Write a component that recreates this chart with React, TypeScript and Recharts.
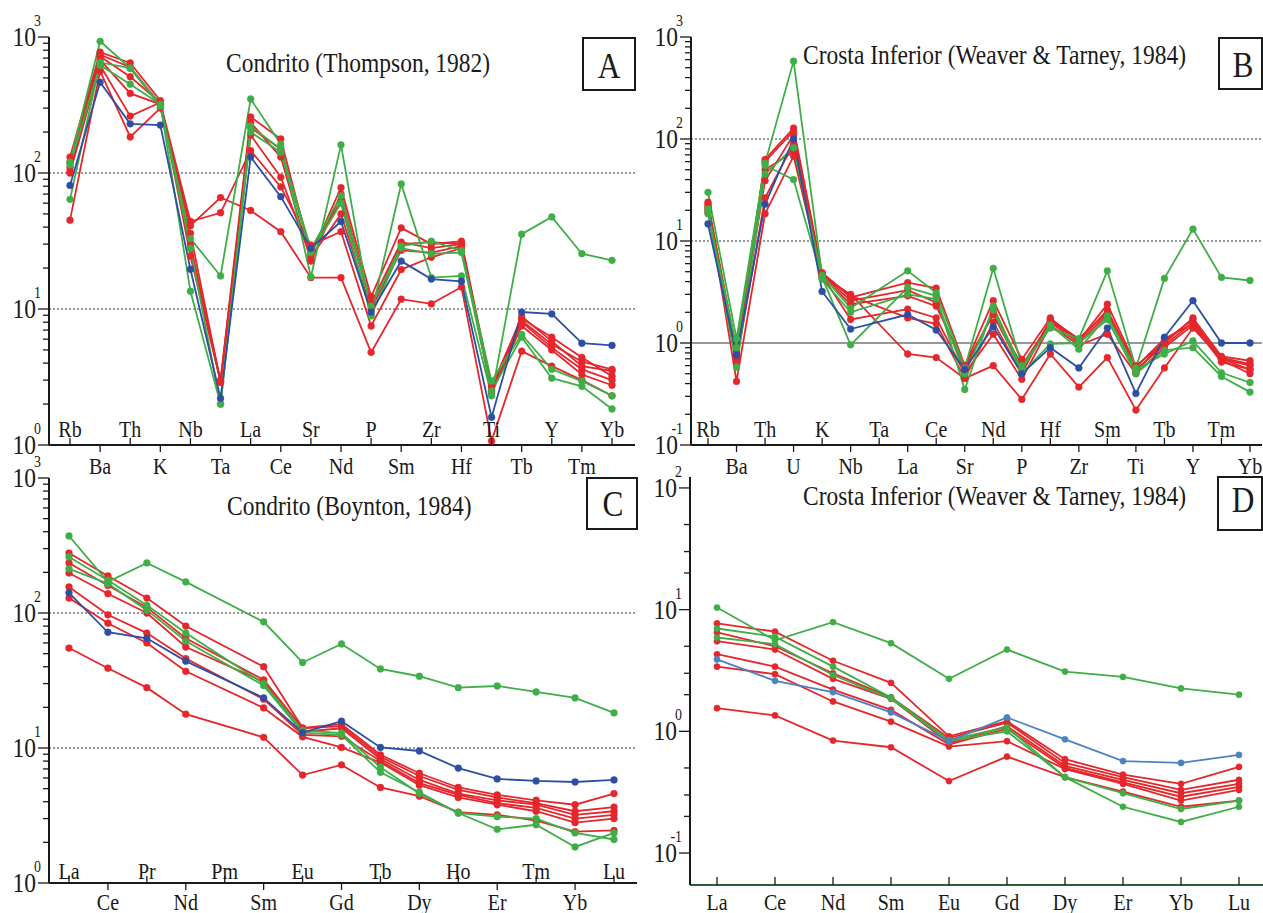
import * as React from 'react';
import { LineChart, Line, XAxis, YAxis, ReferenceLine } from 'recharts';

const SERIF = "'Liberation Serif', 'Times New Roman', serif";
const INK = '#1a1a1a';
const RED = '#e4272c';
const GREEN = '#3fae47';
const BLUE = '#2c4ea3';
const BLUE_LIGHT = '#4b82c3';
const FRAME_D = '#2d5e33';
const SQUEEZE = 0.87;

// ---- A: Condrito (Thompson, 1982)
const elementsA = ['Rb', 'Ba', 'Th', 'K', 'Nb', 'Ta', 'La', 'Ce', 'Sr', 'Nd', 'P', 'Sm', 'Zr', 'Hf', 'Ti', 'Tb', 'Y', 'Tm', 'Yb'];
const aRed1 = [45, 560, 184, 300, 41, 66, 53, 37, 17, 17, 4.8, 11.8, 10.9, 14.5, 1.07, 4.9, 3.8, 3.0, 2.3];
const aRed2 = [100, 620, 262, 330, 44, 51, 146, 79, 29.5, 37, 7.5, 19.5, 24, 28, 2.7, 8.2, 5.5, 4.1, 3.6];
const aRed3 = [131, 775, 645, 340, 28, 3.0, 258, 178, 25, 78, 12.3, 39.5, 30, 31.5, 2.7, 8.5, 6.2, 4.4, 3.2];
const aRed4 = [103, 720, 510, 330, 24.5, 2.9, 235, 131, 22.5, 70, 11, 31, 28, 30, 2.6, 8.8, 5.8, 3.8, 3.5];
const aRed5 = [110, 680, 385, 320, 30, 2.9, 190, 93, 24, 50, 10, 27, 26, 29, 2.5, 8.0, 5.2, 3.6, 3.0];
const aRed6 = [120, 740, 600, 320, 36, 2.9, 215, 150, 27, 62, 10.8, 30, 31, 30, 2.4, 7.5, 5.0, 3.3, 2.75];
const aGreen1 = [120, 930, 590, 310, 33, 17.5, 350, 163, 17.2, 161, 9, 83, 17, 17.5, 2.3, 35.5, 47.5, 25.5, 22.8];
const aGreen2 = [64, 650, 590, 320, 13.5, 2.0, 220, 150, 27.6, 68, 10.5, 29, 31.5, 26.8, 2.95, 6.5, 3.6, 2.95, 2.3];
const aGreen3 = [115, 620, 450, 320, 28, 2.0, 200, 142, 26, 60, 8.9, 28, 25.5, 26, 2.5, 6.2, 3.1, 2.7, 1.84];
const aBlue = [81, 465, 230, 225, 19.6, 2.2, 131, 67, 28, 44, 9.5, 22.5, 16.6, 16, 1.6, 9.5, 9.2, 5.6, 5.4];

// ---- B: Crosta Inferior (Weaver & Tarney, 1984) - Ta sem dados
const elementsB = ['Rb', 'Ba', 'Th', 'U', 'K', 'Nb', 'Ta', 'La', 'Ce', 'Sr', 'Nd', 'P', 'Hf', 'Zr', 'Sm', 'Ti', 'Tb', 'Y', 'Tm', 'Yb'];
const bRed1 = [22, 0.42, 18.5, 68, 4.5, 3.0, null, 0.78, 0.72, 0.45, 0.6, 0.28, 0.78, 0.37, 0.72, 0.22, 0.57, 1.4, 0.7, 0.55];
const bRed2 = [24, 0.7, 63, 128, 4.9, 2.8, null, 3.9, 3.45, 0.6, 2.6, 0.69, 1.76, 1.05, 2.4, 0.6, 1.0, 1.76, 0.74, 0.67];
const bRed3 = [21, 0.8, 39, 110, 4.7, 2.6, null, 3.3, 2.5, 0.55, 2.0, 0.6, 1.6, 1.0, 1.9, 0.55, 0.95, 1.6, 0.7, 0.6];
const bRed4 = [19, 0.65, 26.5, 90, 4.6, 1.7, null, 2.15, 1.76, 0.5, 1.22, 0.44, 1.5, 0.95, 1.22, 0.5, 0.9, 1.5, 0.65, 0.55];
const bRed5 = [20, 0.75, 50, 75, 4.8, 2.9, null, 1.76, 1.54, 0.45, 1.6, 0.5, 1.7, 1.1, 2.0, 0.52, 1.05, 1.7, 0.68, 0.5];
const bRed6 = [23, 0.85, 60, 120, 4.5, 2.4, null, 2.9, 2.3, 0.6, 1.9, 0.55, 1.65, 1.05, 2.1, 0.58, 1.1, 1.55, 0.72, 0.62];
const bGreen1 = [30, 1.1, 58, 580, 4.6, 2.2, null, 5.1, 3.1, 0.57, 5.4, 0.6, 1.4, 1.1, 5.1, 0.57, 4.3, 13.1, 4.4, 4.1];
const bGreen2 = [20.6, 0.58, 45.5, 82, 4.4, 0.96, null, 3.5, 2.9, 0.35, 2.3, 0.55, 1.5, 0.87, 1.84, 0.55, 0.78, 1.05, 0.51, 0.41];
const bGreen3 = [18.5, 0.9, 55, 40, 4.2, 2.0, null, 3.0, 2.7, 0.5, 2.1, 0.5, 0.98, 1.0, 1.7, 0.5, 0.85, 0.9, 0.47, 0.33];
const bBlue = [14.7, 0.76, 23, 100, 3.2, 1.37, null, 1.9, 1.34, 0.55, 1.44, 0.5, 0.9, 0.57, 1.4, 0.32, 1.14, 2.6, 1.0, 1.0];

// ---- C: Condrito (Boynton, 1984) - Pm sem dados
const elementsC = ['La', 'Ce', 'Pr', 'Nd', 'Pm', 'Sm', 'Eu', 'Gd', 'Tb', 'Dy', 'Ho', 'Er', 'Tm', 'Yb', 'Lu'];
const cRed1 = [55, 39, 28, 17.8, null, 12, 6.3, 7.5, 5.1, 4.4, 3.35, 3.2, 2.9, 2.4, 2.45];
const cRed2 = [278, 188, 129, 80, null, 40, 14.1, 15, 8.9, 6.5, 5.1, 4.5, 4.1, 3.8, 4.6];
const cRed3 = [235, 160, 110, 65, null, 32, 14.0, 14.5, 8.6, 6.2, 4.9, 4.3, 3.9, 3.4, 3.65];
const cRed4 = [198, 139, 100, 56, null, 31, 13.2, 14, 8.3, 5.8, 4.6, 4.1, 3.8, 3.2, 3.4];
const cRed5 = [156, 97, 71, 46, null, 23, 12.5, 12.2, 8.0, 5.5, 4.5, 3.9, 3.6, 3.0, 3.2];
const cRed6 = [129, 84, 60, 37, null, 19.8, 12.1, 10.1, 7.8, 5.3, 4.3, 3.8, 3.4, 2.8, 3.0];
const cGreen1 = [372, 170, 235, 170, null, 86, 43, 59, 38.5, 34, 28, 28.8, 26, 23.5, 18.2];
const cGreen2 = [260, 175, 114, 71, null, 30, 13.5, 12.9, 7.2, 4.6, 3.3, 2.5, 2.7, 1.85, 2.35];
const cGreen3 = [212, 165, 105, 62, null, 29, 13.0, 12.5, 6.6, 4.7, 3.3, 3.1, 3.0, 2.35, 2.1];
const cBlue = [141, 72, 65, 44, null, 23.5, 13.0, 15.8, 10.1, 9.5, 7.1, 5.9, 5.7, 5.6, 5.8];

// ---- D: Crosta Inferior (Weaver & Tarney, 1984) - ETR
const elementsD = ['La', 'Ce', 'Nd', 'Sm', 'Eu', 'Gd', 'Dy', 'Er', 'Yb', 'Lu'];
const dRed1 = [1.55, 1.35, 0.84, 0.74, 0.39, 0.62, 0.42, 0.32, 0.24, 0.27];
const dRed2 = [7.7, 6.6, 3.8, 2.5, 0.91, 1.21, 0.59, 0.44, 0.37, 0.51];
const dRed3 = [6.5, 5.0, 3.0, 1.9, 0.88, 1.18, 0.55, 0.42, 0.33, 0.4];
const dRed4 = [5.5, 4.7, 2.7, 1.85, 0.8, 1.1, 0.52, 0.4, 0.31, 0.37];
const dRed5 = [4.3, 3.4, 2.2, 1.5, 0.78, 1.05, 0.5, 0.38, 0.29, 0.35];
const dRed6 = [3.4, 2.95, 1.76, 1.2, 0.75, 0.83, 0.49, 0.37, 0.27, 0.33];
const dGreen1 = [10.4, 5.6, 7.9, 5.3, 2.7, 4.7, 3.1, 2.8, 2.25, 2.0];
const dGreen2 = [7.0, 6.0, 3.4, 1.9, 0.85, 1.08, 0.42, 0.31, 0.23, 0.27];
const dGreen3 = [5.9, 5.2, 2.9, 1.85, 0.83, 1.0, 0.42, 0.24, 0.18, 0.24];
const dBlue = [3.9, 2.6, 2.1, 1.43, 0.83, 1.3, 0.86, 0.57, 0.55, 0.64];

type Serie = { key: string; color: string; values: (number | null)[] };

function makeSeries(reds: any[], greens: any[], blue: any[], blueColor: string): Serie[] {
  const out: Serie[] = [];
  reds.forEach((v, i) => out.push({ key: 'r' + i, color: RED, values: v }));
  greens.forEach((v, i) => out.push({ key: 'g' + i, color: GREEN, values: v }));
  out.push({ key: 'b', color: blueColor, values: blue });
  return out;
}

function buildRows(cats: string[], series: Serie[]) {
  return cats.map((el, i) => {
    const row: any = { el };
    series.forEach((s) => { row[s.key] = s.values[i]; });
    return row;
  });
}

// minor ticks of a log axis
function logTicks(lo: number, hi: number, mults: number[]) {
  const out: number[] = [];
  for (let e = Math.floor(Math.log10(lo)) - 1; e <= Math.ceil(Math.log10(hi)); e++) {
    for (const m of mults) {
      const v = Number((m * Math.pow(10, e)).toPrecision(6));
      if (v >= lo * 0.999 && v <= hi * 1.001) out.push(v);
    }
  }
  return out;
}

function SqText({ x, y, size, anchor = 'start', children }: any) {
  return (
    <text transform={`translate(${x},${y}) scale(${SQUEEZE},1)`} fontSize={size}
      textAnchor={anchor} fontFamily={SERIF} fill={INK}>{children}</text>
  );
}

function DecadeTick(props: any) {
  const { x, y, payload } = props;
  const e = Math.log10(payload.value);
  const exp = Math.round(e);
  const major = Math.abs(e - exp) < 1e-6;
  return (
    <g>
      <line x1={x} x2={x - (major ? 11 : 6)} y1={y} y2={y} stroke={INK} strokeWidth={1.3} />
      {major && <SqText x={x - 13} y={y + 9} size={27} anchor="end">10</SqText>}
      {major && <SqText x={x - 8} y={y - 11} size={16} anchor="end">{exp}</SqText>}
    </g>
  );
}

function ElementTick(props: any) {
  const { x, y, payload, index, stagger, upDy, downDy } = props;
  const up = stagger && index % 2 === 0;
  if (!stagger) {
    return (
      <g>
        <line x1={x} x2={x} y1={y} y2={y - 8} stroke={INK} strokeWidth={1.3} />
        <SqText x={x} y={y + downDy} size={23} anchor="middle">{payload.value}</SqText>
      </g>
    );
  }
  return (
    <g>
      <line x1={x} x2={x} y1={y} y2={up ? y - 7 : y + 7} stroke={INK} strokeWidth={1.3} />
      <SqText x={x} y={up ? y + upDy : y + downDy} size={23} anchor="middle">{payload.value}</SqText>
    </g>
  );
}

type PanelProps = {
  left: number; top: number; width: number; height: number;
  margin: any; yWidth: number; xHeight: number;
  cats: string[]; series: Serie[]; domain: [number, number]; ticks: number[];
  padL: number; padR: number; stagger: boolean; upDy: number; downDy: number;
  dotted: number[]; solid: number[]; frame: string; dotR: number;
};

function Panel(p: PanelProps) {
  const rows = buildRows(p.cats, p.series);
  return (
    <div style={{ position: 'absolute', left: p.left, top: p.top }}>
      <LineChart width={p.width} height={p.height} data={rows} margin={p.margin}>
        <XAxis xAxisId="bottom" dataKey="el" height={p.xHeight} interval={0}
          padding={{ left: p.padL, right: p.padR }} tickSize={0} tickMargin={0} tickLine={false}
          axisLine={{ stroke: p.frame, strokeWidth: 2 }}
          tick={(t: any) => <ElementTick {...t} stagger={p.stagger} upDy={p.upDy} downDy={p.downDy} />} />
        <XAxis xAxisId="top" dataKey="el" orientation="top" height={0} tick={false} tickLine={false}
          axisLine={{ stroke: p.frame, strokeWidth: 2 }} />
        <YAxis yAxisId="left" type="number" scale="log" domain={p.domain} allowDataOverflow
          ticks={p.ticks} interval={0} width={p.yWidth} tickSize={0} tickMargin={0} tickLine={false}
          axisLine={{ stroke: INK, strokeWidth: 2 }} tick={<DecadeTick />} />
        <YAxis yAxisId="right" orientation="right" type="number" domain={[0, 1]} width={0}
          tick={false} tickLine={false} axisLine={{ stroke: p.frame, strokeWidth: 2 }} />
        {p.dotted.map((v) => (
          <ReferenceLine key={'d' + v} xAxisId="bottom" yAxisId="left" y={v}
            stroke="#333" strokeDasharray="2 2" strokeWidth={1} />
        ))}
        {p.solid.map((v) => (
          <ReferenceLine key={'s' + v} xAxisId="bottom" yAxisId="left" y={v} stroke="#333" strokeWidth={1.2} />
        ))}
        {p.series.map((s) => (
          <Line key={s.key} xAxisId="bottom" yAxisId="left" dataKey={s.key} stroke={s.color}
            strokeWidth={1.8} connectNulls isAnimationActive={false} activeDot={false}
            dot={{ r: p.dotR, fill: s.color, stroke: s.color, strokeWidth: 0.5 }} />
        ))}
      </LineChart>
    </div>
  );
}

const seriesA = makeSeries([aRed1, aRed2, aRed3, aRed4, aRed5, aRed6], [aGreen1, aGreen2, aGreen3], aBlue, BLUE);
const seriesB = makeSeries([bRed1, bRed2, bRed3, bRed4, bRed5, bRed6], [bGreen1, bGreen2, bGreen3], bBlue, BLUE);
const seriesC = makeSeries([cRed1, cRed2, cRed3, cRed4, cRed5, cRed6], [cGreen1, cGreen2, cGreen3], cBlue, BLUE);
const seriesD = makeSeries([dRed1, dRed2, dRed3, dRed4, dRed5, dRed6], [dGreen1, dGreen2, dGreen3], dBlue, BLUE_LIGHT);

const allMinor = [1, 2, 3, 4, 5, 6, 7, 8, 9];
const domainD: [number, number] = [0.0546, 123];

function Caption({ x, y, text }: any) {
  return <SqText x={x} y={y} size={27}>{text}</SqText>;
}

function LetterBox({ x, y, w, h, letter, bx, by }: any) {
  return (
    <g>
      <rect x={x} y={y} width={w} height={h} fill="#fff" stroke={INK} strokeWidth={2} />
      <SqText x={bx} y={by} size={36} anchor="middle">{letter}</SqText>
    </g>
  );
}

export default function App() {
  return (
    <div style={{ position: 'absolute', left: 0, top: 0, width: 1263, height: 913, background: '#fff', overflow: 'hidden' }}>
      <Panel left={0} top={0} width={640} height={480} margin={{ top: 37, right: 5, left: 0, bottom: 0 }}
        yWidth={49} xHeight={35} cats={elementsA} series={seriesA} domain={[1, 1000]}
        ticks={logTicks(1, 1000, allMinor)} padL={21} padR={23} stagger upDy={-8} downDy={29}
        dotted={[10, 100]} solid={[]} frame={INK} dotR={3.4} />
      <Panel left={640} top={0} width={623} height={480} margin={{ top: 37, right: 1, left: 0, bottom: 0 }}
        yWidth={51} xHeight={35} cats={elementsB} series={seriesB} domain={[0.1, 1000]}
        ticks={logTicks(0.1, 1000, allMinor)} padL={17} padR={12} stagger upDy={-8} downDy={29}
        dotted={[10, 100]} solid={[1]} frame={INK} dotR={3.4} />
      <Panel left={0} top={455} width={640} height={458} margin={{ top: 23, right: 3, left: 0, bottom: 0 }}
        yWidth={49} xHeight={30} cats={elementsC} series={seriesC} domain={[1, 1000]}
        ticks={logTicks(1, 1000, allMinor)} padL={20} padR={23} stagger upDy={-4} downDy={27}
        dotted={[10, 100]} solid={[]} frame={INK} dotR={3.4} />
      <Panel left={640} top={455} width={623} height={458} margin={{ top: 22, right: 0, left: 0, bottom: 0 }}
        yWidth={50} xHeight={28} cats={elementsD} series={seriesD} domain={domainD}
        ticks={logTicks(domainD[0], domainD[1], [1, 2, 3, 5])} padL={27} padR={24} stagger={false}
        upDy={0} downDy={25} dotted={[]} solid={[]} frame={FRAME_D} dotR={3.1} />
      <svg width={1263} height={913} style={{ position: 'absolute', left: 0, top: 0, pointerEvents: 'none' }}>
        <Caption x={226} y={72} text="Condrito (Thompson, 1982)" />
        <Caption x={803} y={64} text="Crosta Inferior (Weaver & Tarney, 1984)" />
        <Caption x={227} y={515} text="Condrito (Boynton, 1984)" />
        <Caption x={803} y={505} text="Crosta Inferior (Weaver & Tarney, 1984)" />
        <LetterBox x={583} y={38} w={52} h={52} letter="A" bx={609} by={78} />
        <LetterBox x={1219} y={38} w={43} h={51} letter="B" bx={1243} by={77} />
        <LetterBox x={587} y={478} w={50} h={51} letter="C" bx={613} by={516} />
        <LetterBox x={1218} y={477} w={44} h={53} letter="D" bx={1243} by={512} />
      </svg>
    </div>
  );
}
